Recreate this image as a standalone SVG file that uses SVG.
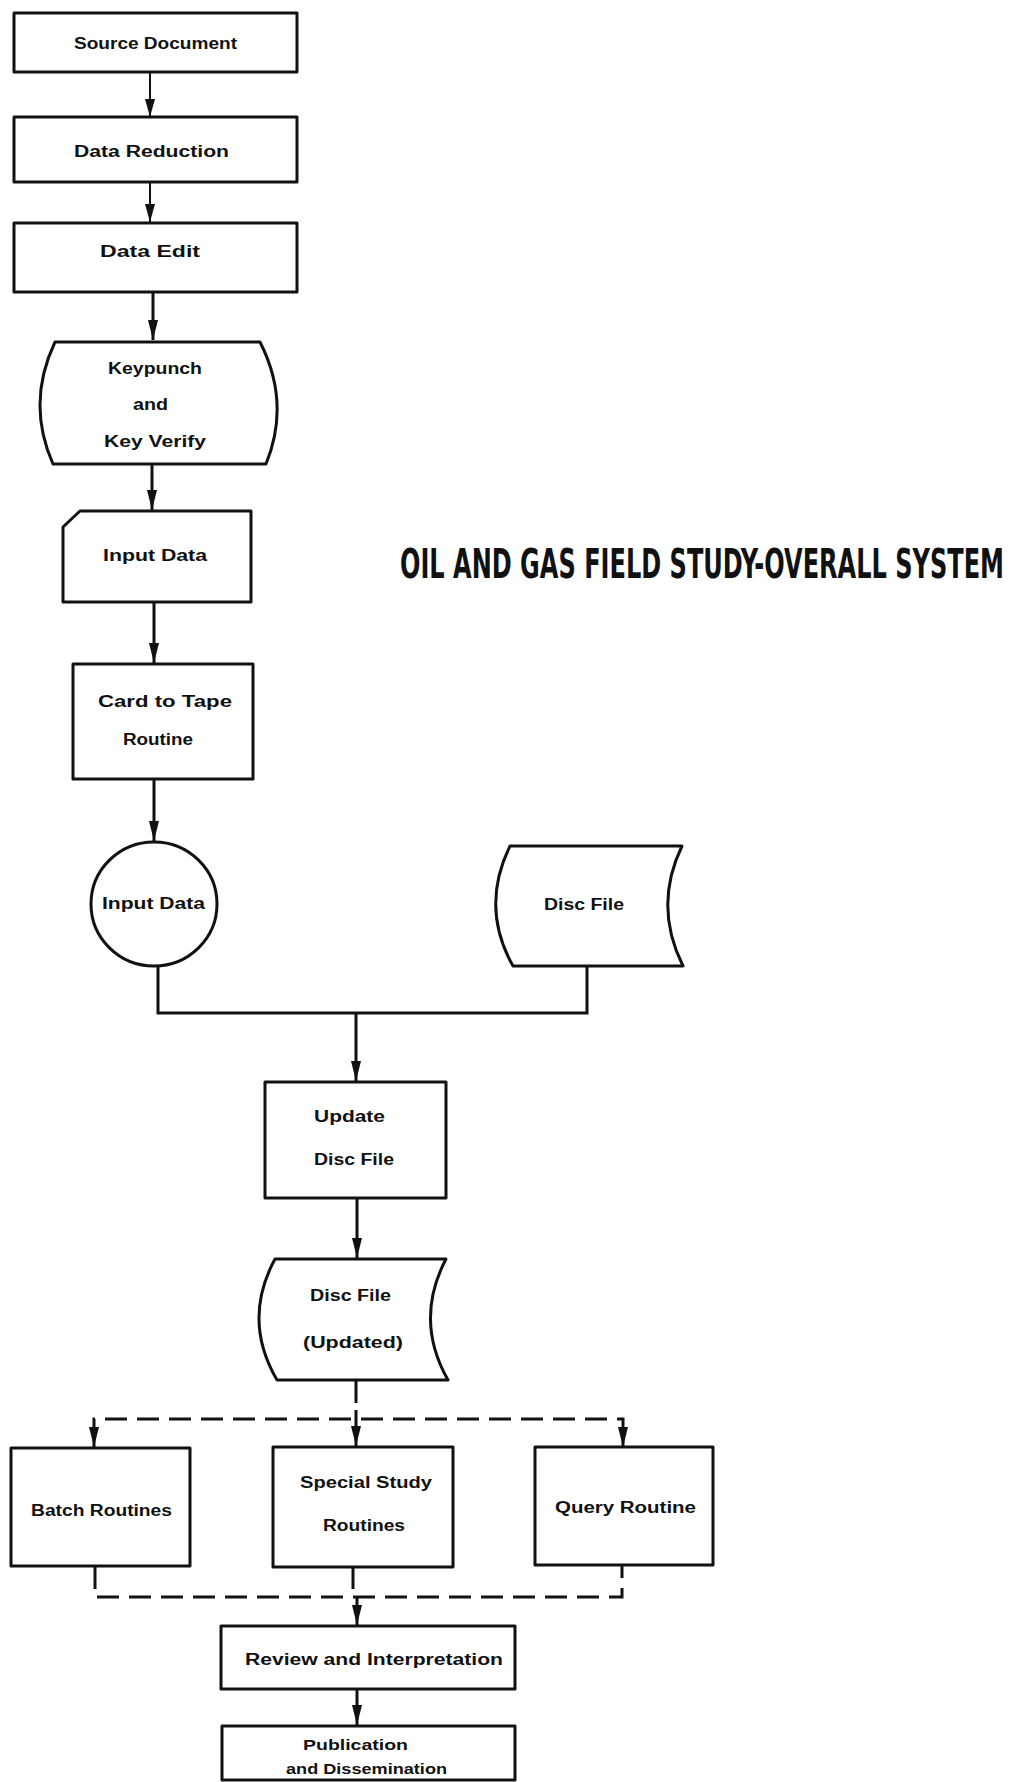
<svg xmlns="http://www.w3.org/2000/svg" width="1020" height="1782" viewBox="0 0 1020 1782">
<defs>
<style>
.box{fill:#fff;stroke:#111;stroke-width:3;stroke-linejoin:round}
.ln{fill:none;stroke:#111;stroke-width:3}
.thin{fill:none;stroke:#111;stroke-width:2}
.dash{fill:none;stroke:#111;stroke-width:3;stroke-dasharray:22 10}
.t{font-family:"Liberation Sans",Arial,sans-serif;font-weight:bold;font-size:16px;fill:#111}
.s{font-size:15px}
.title{font-family:"DejaVu Sans Condensed","DejaVu Sans",sans-serif;font-stretch:condensed;font-weight:bold;font-size:26px;fill:#111}
</style>
<marker id="ah" viewBox="0 0 20 12" refX="20" refY="6" markerWidth="20" markerHeight="12" markerUnits="userSpaceOnUse" orient="auto">
<path d="M0,1 L20,6 L0,11 Z" fill="#111"/>
</marker>
<marker id="ahs" viewBox="0 0 18 10" refX="18" refY="5" markerWidth="18" markerHeight="10" markerUnits="userSpaceOnUse" orient="auto">
<path d="M0,0 L18,5 L0,10 Z" fill="#111"/>
</marker>
</defs>
<rect width="1020" height="1782" fill="#fff"/>

<g id="connectors">
<line class="thin" x1="150" y1="73" x2="150" y2="117" marker-end="url(#ahs)"/>
<line class="thin" x1="150" y1="182" x2="150" y2="222" marker-end="url(#ahs)"/>
<line class="ln" x1="153" y1="292" x2="153" y2="340" marker-end="url(#ah)"/>
<line class="ln" x1="152" y1="464" x2="152" y2="510" marker-end="url(#ah)"/>
<line class="ln" x1="154" y1="602" x2="154" y2="663" marker-end="url(#ah)"/>
<line class="ln" x1="154" y1="779" x2="154" y2="841" marker-end="url(#ah)"/>
<polyline class="ln" points="158,966 158,1013 587,1013 587,966"/>
<line class="ln" x1="356" y1="1013" x2="356" y2="1081" marker-end="url(#ah)"/>
<line class="ln" x1="357" y1="1198" x2="357" y2="1258" marker-end="url(#ah)"/>
<line class="ln" x1="356" y1="1380" x2="356" y2="1403"/>
<line class="ln" x1="356" y1="1410" x2="356" y2="1446" marker-end="url(#ah)"/>
<path class="dash" d="M94,1440 L94,1419 L623,1419 L623,1440"/>
<line class="ln" x1="94" y1="1428" x2="94" y2="1447" marker-end="url(#ah)"/>
<line class="ln" x1="623" y1="1428" x2="623" y2="1447" marker-end="url(#ah)"/>
<path class="dash" d="M95,1567 L95,1597 L622,1597 L622,1566"/>
<line class="dash" x1="353" y1="1567" x2="353" y2="1597"/>
<line class="ln" x1="357" y1="1597" x2="357" y2="1625" marker-end="url(#ah)"/>
<line class="ln" x1="357" y1="1689" x2="357" y2="1725" marker-end="url(#ah)"/>
</g>

<g id="source-document">
<rect class="box" x="14" y="13" width="283" height="59"/>
<text class="t" x="74" y="49" textLength="163" lengthAdjust="spacingAndGlyphs">Source Document</text>
</g>
<g id="data-reduction">
<rect class="box" x="14" y="117" width="283" height="65"/>
<text class="t" x="74" y="157" textLength="155" lengthAdjust="spacingAndGlyphs">Data Reduction</text>
</g>
<g id="data-edit">
<rect class="box" x="14" y="223" width="283" height="69"/>
<text class="t" x="100" y="257" textLength="100" lengthAdjust="spacingAndGlyphs">Data Edit</text>
</g>
<g id="keypunch">
<path class="box" d="M55,342 L260,342 Q291,403 266,464 L53,464 Q26,403 55,342 Z"/>
<text class="t" x="108" y="374" textLength="94" lengthAdjust="spacingAndGlyphs">Keypunch</text>
<text class="t" x="133" y="410" textLength="35" lengthAdjust="spacingAndGlyphs">and</text>
<text class="t" x="104" y="447" textLength="102" lengthAdjust="spacingAndGlyphs">Key Verify</text>
</g>
<g id="input-data-card">
<path class="box" d="M80,511 L251,511 L251,602 L63,602 L63,527 Z"/>
<text class="t" x="103" y="561" textLength="104" lengthAdjust="spacingAndGlyphs">Input Data</text>
</g>
<g id="card-to-tape">
<rect class="box" x="73" y="664" width="180" height="115"/>
<text class="t" x="98" y="707" textLength="134" lengthAdjust="spacingAndGlyphs">Card to Tape</text>
<text class="t" x="123" y="745" textLength="70" lengthAdjust="spacingAndGlyphs">Routine</text>
</g>
<g id="input-data-tape">
<ellipse class="box" cx="154" cy="904" rx="63" ry="62"/>
<text class="t" x="102" y="909" textLength="103" lengthAdjust="spacingAndGlyphs">Input Data</text>
</g>
<g id="disc-file">
<path class="box" d="M510,846 L682,846 Q653,906 683,966 L513,966 Q480,907 510,846 Z"/>
<text class="t" x="544" y="910" textLength="80" lengthAdjust="spacingAndGlyphs">Disc File</text>
</g>
<g id="update-disc-file">
<rect class="box" x="265" y="1082" width="181" height="116"/>
<text class="t" x="314" y="1122" textLength="71" lengthAdjust="spacingAndGlyphs">Update</text>
<text class="t" x="314" y="1165" textLength="80" lengthAdjust="spacingAndGlyphs">Disc File</text>
</g>
<g id="disc-file-updated">
<path class="box" d="M275,1259 L446,1259 Q414,1320 448,1380 L277,1380 Q242,1320 275,1259 Z"/>
<text class="t" x="310" y="1301" textLength="81" lengthAdjust="spacingAndGlyphs">Disc File</text>
<text class="t" x="303" y="1348" textLength="100" lengthAdjust="spacingAndGlyphs">(Updated)</text>
</g>
<g id="batch-routines">
<rect class="box" x="11" y="1448" width="179" height="118"/>
<text class="t" x="31" y="1516" textLength="141" lengthAdjust="spacingAndGlyphs">Batch Routines</text>
</g>
<g id="special-study-routines">
<rect class="box" x="273" y="1447" width="180" height="120"/>
<text class="t" x="300" y="1488" textLength="132" lengthAdjust="spacingAndGlyphs">Special Study</text>
<text class="t" x="323" y="1531" textLength="82" lengthAdjust="spacingAndGlyphs">Routines</text>
</g>
<g id="query-routine">
<rect class="box" x="535" y="1447" width="178" height="118"/>
<text class="t" x="555" y="1513" textLength="141" lengthAdjust="spacingAndGlyphs">Query Routine</text>
</g>
<g id="review-interpretation">
<rect class="box" x="221" y="1626" width="294" height="63"/>
<text class="t" x="245" y="1665" textLength="258" lengthAdjust="spacingAndGlyphs">Review and Interpretation</text>
</g>
<g id="publication-dissemination">
<rect class="box" x="222" y="1726" width="293" height="54"/>
<text class="t s" x="303" y="1750" textLength="105" lengthAdjust="spacingAndGlyphs">Publication</text>
<text class="t s" x="286" y="1774" textLength="161" lengthAdjust="spacingAndGlyphs">and Dissemination</text>
</g>

<text class="title" transform="translate(400,578) scale(1,1.58)" x="0" y="0" textLength="604" lengthAdjust="spacingAndGlyphs">OIL AND GAS FIELD STUDY-OVERALL SYSTEM</text>
</svg>
